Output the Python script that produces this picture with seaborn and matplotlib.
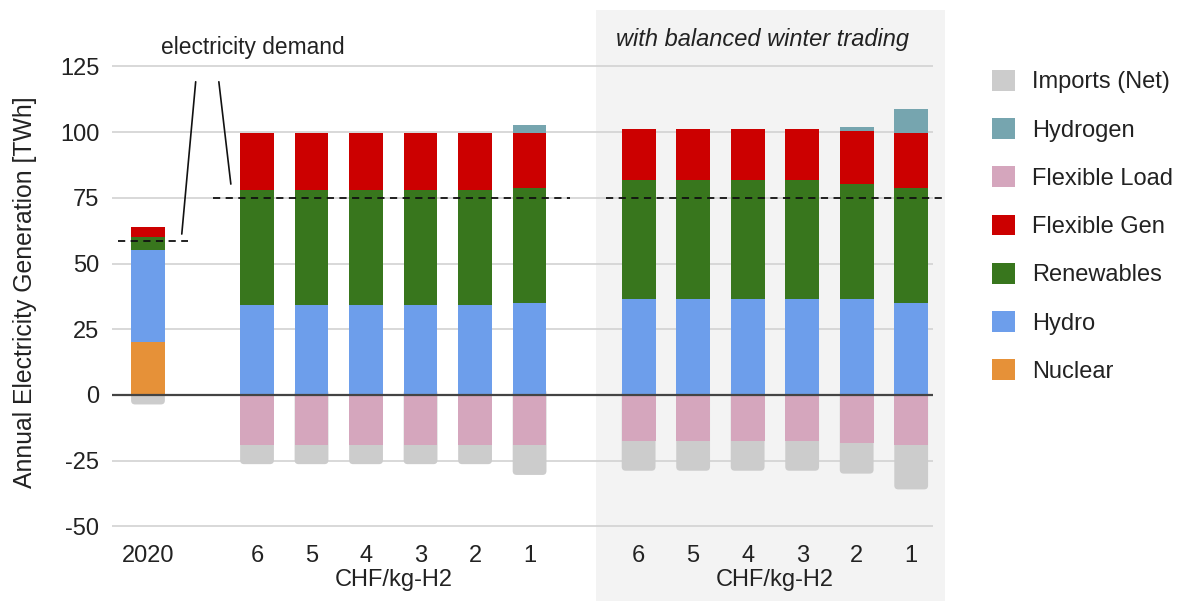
import matplotlib
matplotlib.use("Agg")
import matplotlib.pyplot as plt
from matplotlib.patches import Patch, Rectangle, FancyBboxPatch
import numpy as np
import pandas as pd
import seaborn as sns

# Scenario bars: 2020 reference, then hydrogen prices 6..1 CHF/kg-H2,
# once without and once with balanced winter trading
positions = [0, 2, 3, 4, 5, 6, 7, 9, 10, 11, 12, 13, 14]
tick_labels = ["2020", "6", "5", "4", "3", "2", "1", "6", "5", "4", "3", "2", "1"]

# Generation (TWh, positive)
nuclear = [20, 0, 0, 0, 0, 0, 0, 0, 0, 0, 0, 0, 0]
hydro = [35, 34.2, 34.2, 34.2, 34.2, 34.2, 34.8, 36.4, 36.4, 36.4, 36.4, 36.4, 34.8]
renewables = [5.2, 43.9, 43.9, 43.9, 43.9, 43.9, 44.1, 45.5, 45.5, 45.5, 45.5, 44.0, 44.1]
flexible_gen = [3.8, 21.5, 21.5, 21.5, 21.5, 21.5, 20.7, 19.2, 19.2, 19.2, 19.2, 20.1, 20.7]
hydrogen = [0, 0, 0, 0, 0, 0, 2.9, 0, 0, 0, 0, 1.5, 9.3]

# Consumption side (TWh, negative)
flexible_load = [0, -19.0, -19.0, -19.0, -19.0, -19.0, -19.0, -17.6, -17.6, -17.6, -17.6, -18.3, -19.1]
imports_net = [-3.6, -7.3, -7.3, -7.3, -7.3, -7.3, -11.4, -11.2, -11.2, -11.2, -11.2, -11.6, -16.8]

# Electricity demand levels
demand_2020 = 58.6
demand_future = 75

colors = {
    "Imports (Net)": "#CCCCCC",
    "Hydrogen": "#76A5AF",
    "Flexible Load": "#D5A6BD",
    "Flexible Gen": "#CC0000",
    "Renewables": "#38761D",
    "Hydro": "#6D9EEB",
    "Nuclear": "#E69138",
}

sns.set_theme(style="white")
plt.rcParams["font.family"] = ["Liberation Sans", "DejaVu Sans"]
FS = 17
TXT = "#222222"

df = pd.DataFrame({
    "pos": positions,
    "Nuclear": nuclear,
    "Hydro": hydro,
    "Renewables": renewables,
    "Flexible Gen": flexible_gen,
    "Hydrogen": hydrogen,
    "Flexible Load": flexible_load,
    "Imports (Net)": imports_net,
})

# cumulative stack heights
pos_order = ["Nuclear", "Hydro", "Renewables", "Flexible Gen", "Hydrogen"]
neg_order = ["Flexible Load", "Imports (Net)"]
stack = pd.DataFrame({"pos": df["pos"]})
stack[pos_order] = df[pos_order].cumsum(axis=1)
stack[neg_order] = df[neg_order].cumsum(axis=1)

W, H = 1182, 601
fig = plt.figure(figsize=(W / 100, H / 100), dpi=100)

# shaded panel for the balanced-trading scenarios
fig.patches.append(Rectangle((596 / W, 0), 349 / W, 591 / H, transform=fig.transFigure,
                             facecolor="#F3F3F3", edgecolor="none", zorder=-5))

ax = fig.add_axes([112 / W, (H - 537) / H, 821 / W, 494.4 / H])
ax.patch.set_alpha(0)
XLIM = (-0.66, 14.40)
YLIM = (-54, 134)

bar_kws = dict(native_scale=True, saturation=1, width=0.62, errorbar=None,
               linewidth=0, edgecolor="none", ax=ax, zorder=3)

# draw tallest cumulative layer first so lower layers sit on top of it
for col in reversed(pos_order):
    sns.barplot(data=stack, x="pos", y=col, color=colors[col], **bar_kws)

# imports: lowest segment, drawn with rounded corners
n_before = len(ax.patches)
sns.barplot(data=stack, x="pos", y="Imports (Net)", color=colors["Imports (Net)"], **bar_kws)
import_bars = ax.patches[n_before:]
px_x = 821 / (XLIM[1] - XLIM[0])
px_y = 494.4 / (YLIM[1] - YLIM[0])
radius = 4 / px_x
for r in list(import_bars):
    x0, w = r.get_x(), r.get_width()
    y0, h = r.get_y(), r.get_height()
    lo = min(y0, y0 + h)
    if abs(h) < 1e-9:
        r.remove()
        continue
    top = 6 / px_y
    fb = FancyBboxPatch((x0, lo), w, -lo + top,
                        boxstyle=f"round,pad=0,rounding_size={radius}",
                        mutation_aspect=px_x / px_y,
                        facecolor=r.get_facecolor(), edgecolor="none", zorder=2.9)
    r.remove()
    ax.add_patch(fb)

sns.barplot(data=stack, x="pos", y="Flexible Load", color=colors["Flexible Load"], **bar_kws)

ax.set_xlim(*XLIM)
ax.set_ylim(*YLIM)
yt = [-50, -25, 0, 25, 50, 75, 100, 125]
ax.set_yticks(yt)
ax.set_yticklabels([str(v) for v in yt], fontsize=FS, color=TXT)
ax.set_xticks(positions)
ax.set_xticklabels(tick_labels, fontsize=FS, color=TXT)
ax.tick_params(axis="both", length=0)
ax.tick_params(axis="y", pad=9)
ax.tick_params(axis="x", pad=6)
ax.set_xlabel("")
ax.set_ylabel("")
for s in ax.spines.values():
    s.set_visible(False)

for v in yt:
    if v == 0:
        ax.axhline(0, color="#444444", lw=1.6, zorder=4)
    else:
        ax.axhline(v, color="#D5D5D5", lw=1.3, zorder=1)

# electricity demand markers
dash = (0, (4, 3))
ax.plot([-0.55, 0.73], [demand_2020] * 2, color="#111111", lw=1.3, ls=dash, zorder=5, clip_on=False)
ax.plot([1.19, 7.74], [demand_future] * 2, color="#111111", lw=1.3, ls=dash, zorder=5, clip_on=False)
ax.plot([8.40, 14.62], [demand_future] * 2, color="#111111", lw=1.3, ls=dash, zorder=5, clip_on=False)
ax.text(1.93, 132, "electricity demand", fontsize=16.4, color=TXT, ha="center", va="center", clip_on=False)
ax.plot([0.875, 0.62], [119.1, 61.2], color="#111111", lw=1.2, zorder=5)
ax.plot([1.30, 1.52], [119.1, 80.2], color="#111111", lw=1.2, zorder=5)

ax.text(11.28, 135, "with balanced winter trading", fontsize=FS, style="italic",
        color=TXT, ha="center", va="center", clip_on=False)

for xc in (4.5, 11.5):
    ax.text(xc, -70.3, "CHF/kg-H2", fontsize=FS, color=TXT, ha="center", va="center", clip_on=False)

fig.text(25 / W, 1 - 292 / H, "Annual Electricity Generation [TWh]", rotation=90,
         fontsize=17.8, color=TXT, ha="center", va="center")

handles = [Patch(facecolor=colors[k], edgecolor="none", label=k) for k in colors]
fig.legend(handles=handles, loc="upper left", bbox_to_anchor=(992 / W, 1 - 70 / H),
           frameon=False, fontsize=FS, labelcolor=TXT, borderpad=0, borderaxespad=0,
           handlelength=0.97, handleheight=0.97, handletextpad=0.72, labelspacing=1.05)

fig.savefig("out.png", dpi=100)
